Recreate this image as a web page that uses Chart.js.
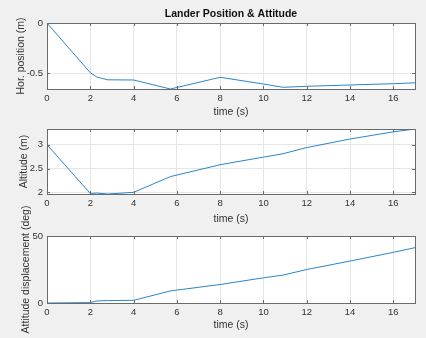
<!DOCTYPE html>
<html>
<head>
<meta charset="utf-8">
<script src="https://cdn.jsdelivr.net/npm/chart.js@4.4.0/dist/chart.umd.min.js"></script>
<style>
html, body { margin: 0; padding: 0; background: #f0f0f0; }
#wrap { position: relative; width: 426px; height: 338px; overflow: hidden; }
#wrap canvas { position: absolute; left: 0; top: 0; }
</style>
</head>
<body>
<div id="wrap">
  <canvas id="g1" width="426" height="338"></canvas>
  <canvas id="g2" width="426" height="338"></canvas>
  <canvas id="g3" width="426" height="338"></canvas>
</div>
<script>
// valores
const tiempo   = [0, 2, 2.3, 2.8, 4, 5.7, 8, 10, 10.9, 12, 14, 16, 17];
const horPos   = [0, -0.497, -0.54, -0.568, -0.57, -0.66, -0.543, -0.61, -0.643, -0.633, -0.62, -0.607, -0.598];
const altitud  = [3, 1.975, 1.985, 1.965, 2.0, 2.33, 2.58, 2.74, 2.81, 2.94, 3.12, 3.27, 3.33];
const actitud  = [0, 0.3, 1.5, 1.8, 2, 9, 13.8, 18.8, 20.8, 25, 31.3, 37.8, 41.3];

const ticksX   = [0, 2, 4, 6, 8, 10, 12, 14, 16];
const ticksHor = [-0.5, 0];
const ticksAlt = [2, 2.5, 3];
const ticksAct = [0, 50];

const TITULO = 'Lander Position & Attitude';
const COLOR_TEXTO = '#333333';
const FUENTE = "'Liberation Sans', Arial, sans-serif";

// caja estilo MATLAB: fondo blanco, borde y marcas hacia dentro
const cajaMatlab = {
    id: 'cajaMatlab',
    beforeDraw(chart) {
        const { ctx, chartArea: a } = chart;
        ctx.save();
        ctx.fillStyle = '#ffffff';
        ctx.fillRect(a.left, a.top, a.right - a.left, a.bottom - a.top);
        ctx.restore();
    },
    afterDraw(chart, args, opts) {
        const { ctx, chartArea: a, scales } = chart;
        ctx.save();
        ctx.strokeStyle = '#6a6a6a';
        ctx.lineWidth = 1;
        ctx.beginPath();
        scales.x.ticks.forEach(t => {
            const px = Math.round(scales.x.getPixelForValue(t.value)) + 0.5;
            ctx.moveTo(px, a.bottom); ctx.lineTo(px, a.bottom - 3);
            ctx.moveTo(px, a.top); ctx.lineTo(px, a.top + 3);
        });
        scales.y.ticks.forEach(t => {
            const py = Math.round(scales.y.getPixelForValue(t.value)) + 0.5;
            ctx.moveTo(a.left, py); ctx.lineTo(a.left + 3, py);
            ctx.moveTo(a.right, py); ctx.lineTo(a.right - 3, py);
        });
        ctx.stroke();
        ctx.strokeRect(Math.round(a.left) + 0.5, Math.round(a.top) + 0.5,
            Math.round(a.right - a.left), Math.round(a.bottom - a.top));
        // título centrado sobre el área del gráfico, como en MATLAB
        if (opts.titulo) {
            ctx.fillStyle = '#111111';
            ctx.font = "bold 10.5px " + FUENTE;
            ctx.textAlign = 'center';
            ctx.textBaseline = 'middle';
            ctx.fillText(opts.titulo, (a.left + a.right) / 2, 14);
        }
        ctx.restore();
    }
};

function crearGrafico(id, valores, yMin, yMax, ticksY, tituloY, cfg) {
    const ctx = document.getElementById(id);
    return new Chart(ctx.getContext('2d'), {
        type: 'line',
        data: {
            datasets: [{
                data: tiempo.map((t, i) => ({ x: t, y: valores[i] })),
                borderColor: '#2a86cc',
                borderWidth: 1,
                pointRadius: 0,
                tension: 0,
                fill: false
            }]
        },
        options: {
            responsive: false,
            animation: false,
            layout: { padding: { top: cfg.arriba, bottom: cfg.abajo, left: 0, right: 11 } },
            plugins: {
                legend: { display: false },
                tooltip: { enabled: false },
                title: { display: false },
                cajaMatlab: { titulo: cfg.titulo || '' }
            },
            scales: {
                x: {
                    type: 'linear',
                    min: 0,
                    max: 17,
                    afterBuildTicks: s => { s.ticks = ticksX.map(v => ({ value: v })); },
                    afterFit: s => { s.height = cfg.altoX; },
                    ticks: { color: COLOR_TEXTO, font: { family: FUENTE, size: 9.5 }, padding: 4, maxRotation: 0 },
                    grid: { color: '#e6e6e6', drawTicks: false },
                    border: { display: false },
                    title: {
                        display: true, text: 'time (s)', color: COLOR_TEXTO,
                        font: { family: FUENTE, size: 10.5 }, padding: { top: 0, bottom: 2 }
                    }
                },
                y: {
                    type: 'linear',
                    min: yMin,
                    max: yMax,
                    afterBuildTicks: s => { s.ticks = ticksY.map(v => ({ value: v })); },
                    afterFit: s => { s.width = 47; },
                    ticks: {
                        color: COLOR_TEXTO, font: { family: FUENTE, size: 9.5 }, padding: 4,
                        callback: v => String(v)
                    },
                    grid: { color: '#e6e6e6', drawTicks: false },
                    border: { display: false },
                    title: {
                        display: true, text: tituloY, color: COLOR_TEXTO,
                        font: { family: FUENTE, size: 10.5 }, padding: { top: cfg.padTituloY, bottom: 0 }
                    }
                }
            }
        },
        plugins: [cajaMatlab]
    });
}

document.addEventListener('DOMContentLoaded', function () {
    crearGrafico('g1', horPos, -0.66, 0, ticksHor, 'Hor. position (m)',
        { arriba: 23, abajo: 218, altoX: 31, padTituloY: 15, titulo: TITULO });
    crearGrafico('g2', altitud, 1.965, 3.33, ticksAlt, 'Altitude (m)',
        { arriba: 129, abajo: 111, altoX: 33, padTituloY: 18 });
    crearGrafico('g3', actitud, 0, 50, ticksAct, 'Attitude displacement (deg)',
        { arriba: 236, abajo: 5, altoX: 30, padTituloY: 20 });
});
</script>
</body>
</html>
